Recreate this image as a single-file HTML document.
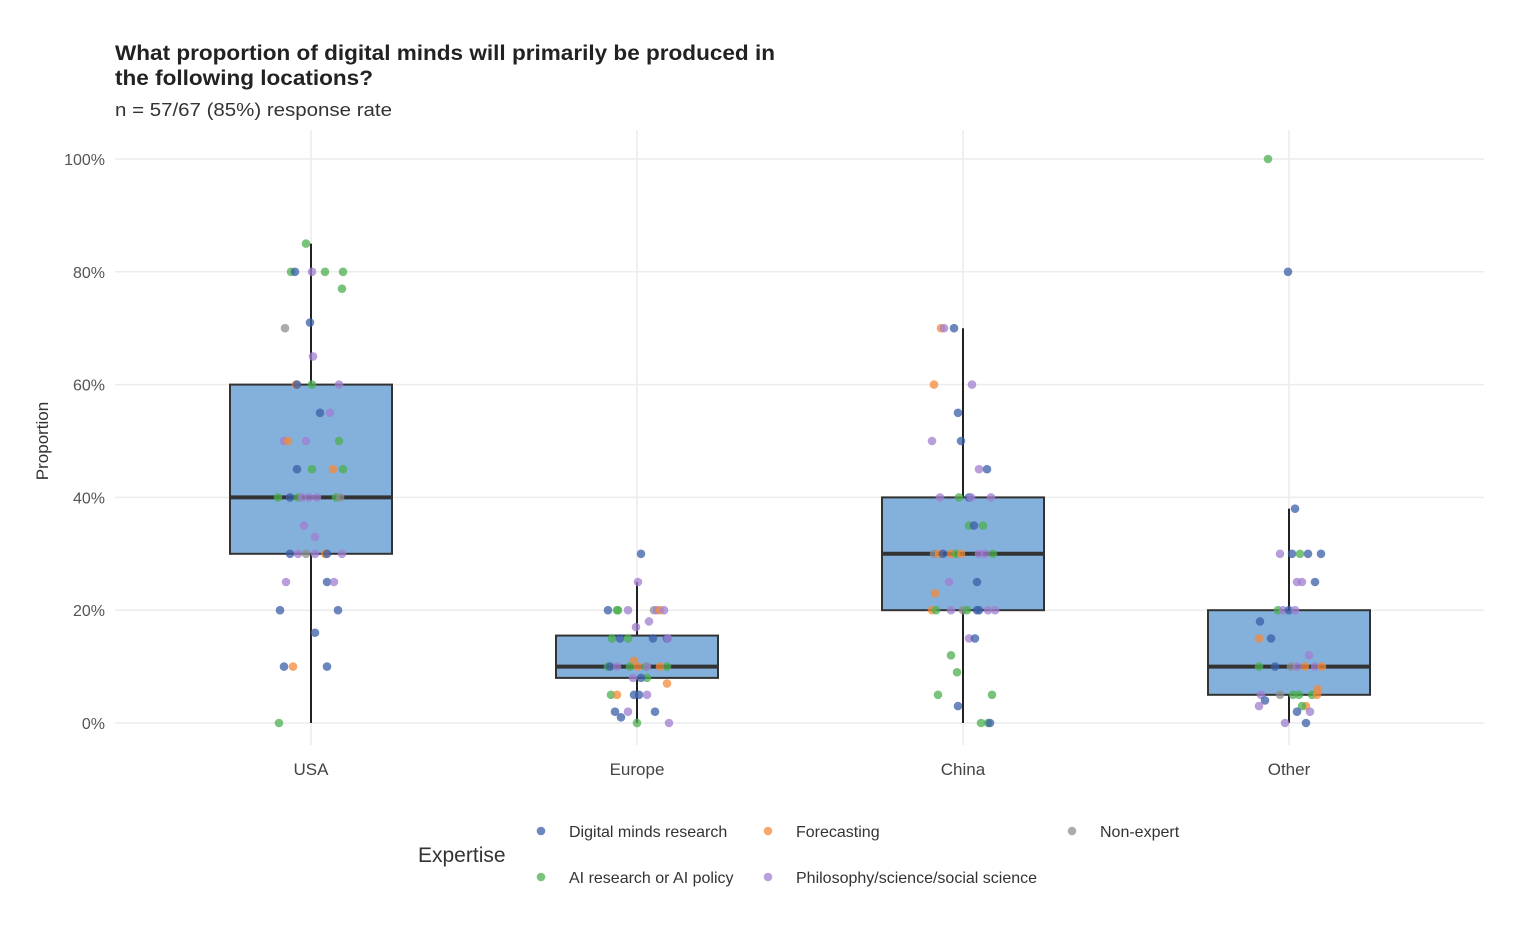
<!DOCTYPE html>
<html><head><meta charset="utf-8"><style>
body{margin:0;background:#fff;}
svg text{font-family:"Liberation Sans","DejaVu Sans",sans-serif;}
</style></head><body>
<svg id="chart" width="1524" height="944" xmlns="http://www.w3.org/2000/svg">
<text x="115" y="60" font-size="21" font-weight="bold" fill="#222" textLength="660" lengthAdjust="spacingAndGlyphs">What proportion of digital minds will primarily be produced in</text>
<text x="115" y="85" font-size="21" font-weight="bold" fill="#222" textLength="258" lengthAdjust="spacingAndGlyphs">the following locations?</text>
<text x="115" y="116" font-size="18" fill="#333" textLength="277" lengthAdjust="spacingAndGlyphs">n = 57/67 (85%) response rate</text>
<text transform="translate(48,441) rotate(-90)" text-anchor="middle" font-size="17" fill="#333">Proportion</text>
<g id="grid"></g><g id="boxes"></g><g id="pts"></g><g id="legend"></g>
</svg>
<script>
const categories=["USA","Europe","China","Other"];
const yTicks=[0,20,40,60,80,100];
const q1=[30,8,20,5], med=[40,10,30,10], q3=[60,15.5,40,20], wLo=[0,0,0,0], wHi=[85,25,70,38];
const groups=["D","F","N","A","P"];
const groupLabels=["Digital minds research","Forecasting","Non-expert","AI research or AI policy","Philosophy/science/social science"];
const groupColors={D:"#3b5fa8",F:"#f58a38",N:"#8f8f8f",A:"#4caf50",P:"#a07fd0"};
// points: [categoryIndex, value, group, jitter(px in 326-px band)]
const points=[
[0,85,"A",-5],[0,80,"A",-20],[0,80,"D",-16],[0,80,"P",1],[0,80,"A",14],[0,80,"A",32],[0,77,"A",31],[0,71,"D",-1],[0,70,"N",-26],[0,65,"P",2],
[0,60,"F",-15],[0,60,"D",-14],[0,60,"A",1],[0,60,"P",28],[0,55,"D",9],[0,55,"P",19],[0,50,"P",-27],[0,50,"F",-23],[0,50,"P",-5],[0,50,"A",28],
[0,45,"D",-14],[0,45,"A",1],[0,45,"F",22],[0,45,"A",32],[0,40,"A",-33],[0,40,"D",-21],[0,40,"A",-13],[0,40,"P",-9],[0,40,"P",-2],[0,40,"P",6],[0,40,"A",25],[0,40,"N",29],
[0,35,"P",-7],[0,33,"P",4],[0,30,"D",-21],[0,30,"P",-13],[0,30,"N",-5],[0,30,"P",4],[0,30,"F",14],[0,30,"D",16],[0,30,"P",31],
[0,25,"P",-25],[0,25,"D",16],[0,25,"P",23],[0,20,"D",-31],[0,20,"D",27],[0,16,"D",4],[0,10,"D",-27],[0,10,"F",-18],[0,10,"D",16],[0,0,"A",-32],
[1,30,"D",4],[1,25,"P",1],[1,20,"D",-29],[1,20,"A",-20],[1,20,"A",-19],[1,20,"P",-9],[1,20,"N",17],[1,20,"P",20],[1,20,"F",23],[1,20,"P",27],[1,18,"P",12],[1,17,"P",-1],
[1,15,"A",-25],[1,15,"D",-17],[1,15,"A",-9],[1,15,"D",16],[1,15,"D",30],[1,15,"P",31],[1,11,"F",-3],[1,10,"A",-29],[1,10,"D",-27],[1,10,"P",-20],[1,10,"A",-7],[1,10,"F",1],[1,10,"A",9],[1,10,"P",10],[1,10,"F",23],[1,10,"A",30],
[1,8,"A",10],[1,8,"D",4],[1,8,"P",-4],[1,7,"F",30],[1,5,"A",-26],[1,5,"F",-20],[1,5,"D",-3],[1,5,"D",2],[1,5,"P",10],[1,2,"D",-22],[1,2,"P",-9],[1,2,"D",18],[1,1,"D",-16],[1,0,"A",0],[1,0,"P",32],
[2,70,"F",-22],[2,70,"P",-19],[2,70,"D",-9],[2,60,"F",-29],[2,60,"P",9],[2,55,"D",-5],[2,50,"P",-31],[2,50,"D",-2],[2,45,"P",16],[2,45,"D",24],
[2,40,"P",-23],[2,40,"A",-4],[2,40,"D",6],[2,40,"P",8],[2,40,"P",28],[2,35,"A",6],[2,35,"D",11],[2,35,"A",20],
[2,30,"N",-29],[2,30,"F",-24],[2,30,"D",-20],[2,30,"F",-12],[2,30,"A",-7],[2,30,"F",-2],[2,30,"P",16],[2,30,"P",22],[2,30,"A",30],
[2,25,"P",-14],[2,25,"D",14],[2,23,"F",-28],[2,20,"F",-31],[2,20,"A",-27],[2,20,"P",-12],[2,20,"N",0],[2,20,"A",4],[2,20,"D",14],[2,20,"D",16],[2,20,"P",25],[2,20,"P",32],
[2,15,"P",6],[2,15,"D",12],[2,12,"A",-12],[2,9,"A",-6],[2,5,"A",-25],[2,5,"A",29],[2,3,"D",-5],[2,0,"A",18],[2,0,"A",25],[2,0,"D",27],
[3,100,"A",-21],[3,80,"D",-1],[3,38,"D",6],[3,30,"P",-9],[3,30,"D",3],[3,30,"A",11],[3,30,"D",19],[3,30,"D",32],[3,25,"P",8],[3,25,"P",13],[3,25,"D",26],
[3,20,"A",-11],[3,20,"P",-6],[3,20,"D",0],[3,20,"P",6],[3,18,"D",-29],[3,15,"F",-30],[3,15,"D",-18],[3,12,"P",20],
[3,10,"A",-30],[3,10,"D",-14],[3,10,"N",2],[3,10,"P",8],[3,10,"F",16],[3,10,"P",26],[3,10,"F",33],[3,6,"F",29],
[3,5,"P",-28],[3,5,"N",-9],[3,5,"A",4],[3,5,"A",10],[3,5,"A",23],[3,5,"F",28],[3,4,"D",-24],[3,3,"P",-30],[3,3,"F",17],[3,3,"A",13],[3,2,"D",8],[3,2,"P",21],[3,0,"P",-4],[3,0,"D",17]
];
const NS="http://www.w3.org/2000/svg";
const X0=115,X1=1484,Y0=723,Y100=159;
const xC=i=>311+i*326, yS=v=>Y0+(Y100-Y0)*v/100;
function mk(t,a,p){const e=document.createElementNS(NS,t);for(const k in a)e.setAttribute(k,a[k]);p.appendChild(e);return e;}
const grid=document.getElementById('grid');
yTicks.forEach(t=>{
 const l=mk('line',{x1:X0,x2:X1,y1:yS(t),y2:yS(t),stroke:'#ececec','stroke-width':1.5},grid);
 
 
 const tx=mk('text',{x:105,y:yS(t)+6,'text-anchor':'end','font-size':16,fill:'#555'},grid);tx.textContent=t+'%';
 
 
});
categories.forEach((c,i)=>{
 const l=mk('line',{x1:xC(i),x2:xC(i),y1:130,y2:745,stroke:'#ececec','stroke-width':1.5},grid);
 
 
 const tx=mk('text',{x:xC(i),y:775,'text-anchor':'middle','font-size':17,fill:'#444'},grid);tx.textContent=c;
 
 
});
const boxes=document.getElementById('boxes');
categories.forEach((c,i)=>{
 const g=mk('g',{},boxes);
 
 
 mk('line',{x1:xC(i),x2:xC(i),y1:yS(wHi[i]),y2:yS(wLo[i]),stroke:'#222','stroke-width':2},g);
 mk('rect',{x:xC(i)-81,y:yS(q3[i]),width:162,height:yS(q1[i])-yS(q3[i]),fill:'#84b1dc',stroke:'#333','stroke-width':2},g);
 mk('line',{x1:xC(i)-81,x2:xC(i)+81,y1:yS(med[i]),y2:yS(med[i]),stroke:'#333','stroke-width':4},g);
});
const pts=document.getElementById('pts');
points.forEach(p=>{
 const c=mk('circle',{cx:xC(p[0])+p[3],cy:yS(p[1]),r:4.3,fill:groupColors[p[2]],'fill-opacity':0.75},pts);
 
 
});
const lg=document.getElementById('legend');
const lt=mk('text',{x:418,y:862,'font-size':21,fill:'#333'},lg);lt.textContent='Expertise';


const lpos=[[541,831],[768,831],[1072,831],[541,877],[768,877]];
groups.forEach((g,k)=>{
 const [x,y]=lpos[k];
 const e=mk('g',{},lg);
 
 
 mk('circle',{cx:x,cy:y,r:4.3,fill:groupColors[g],'fill-opacity':0.75},e);
 const t=mk('text',{x:x+28,y:y+6,'font-size':16,fill:'#333'},e);t.textContent=groupLabels[k];
});
</script>
</body></html>
